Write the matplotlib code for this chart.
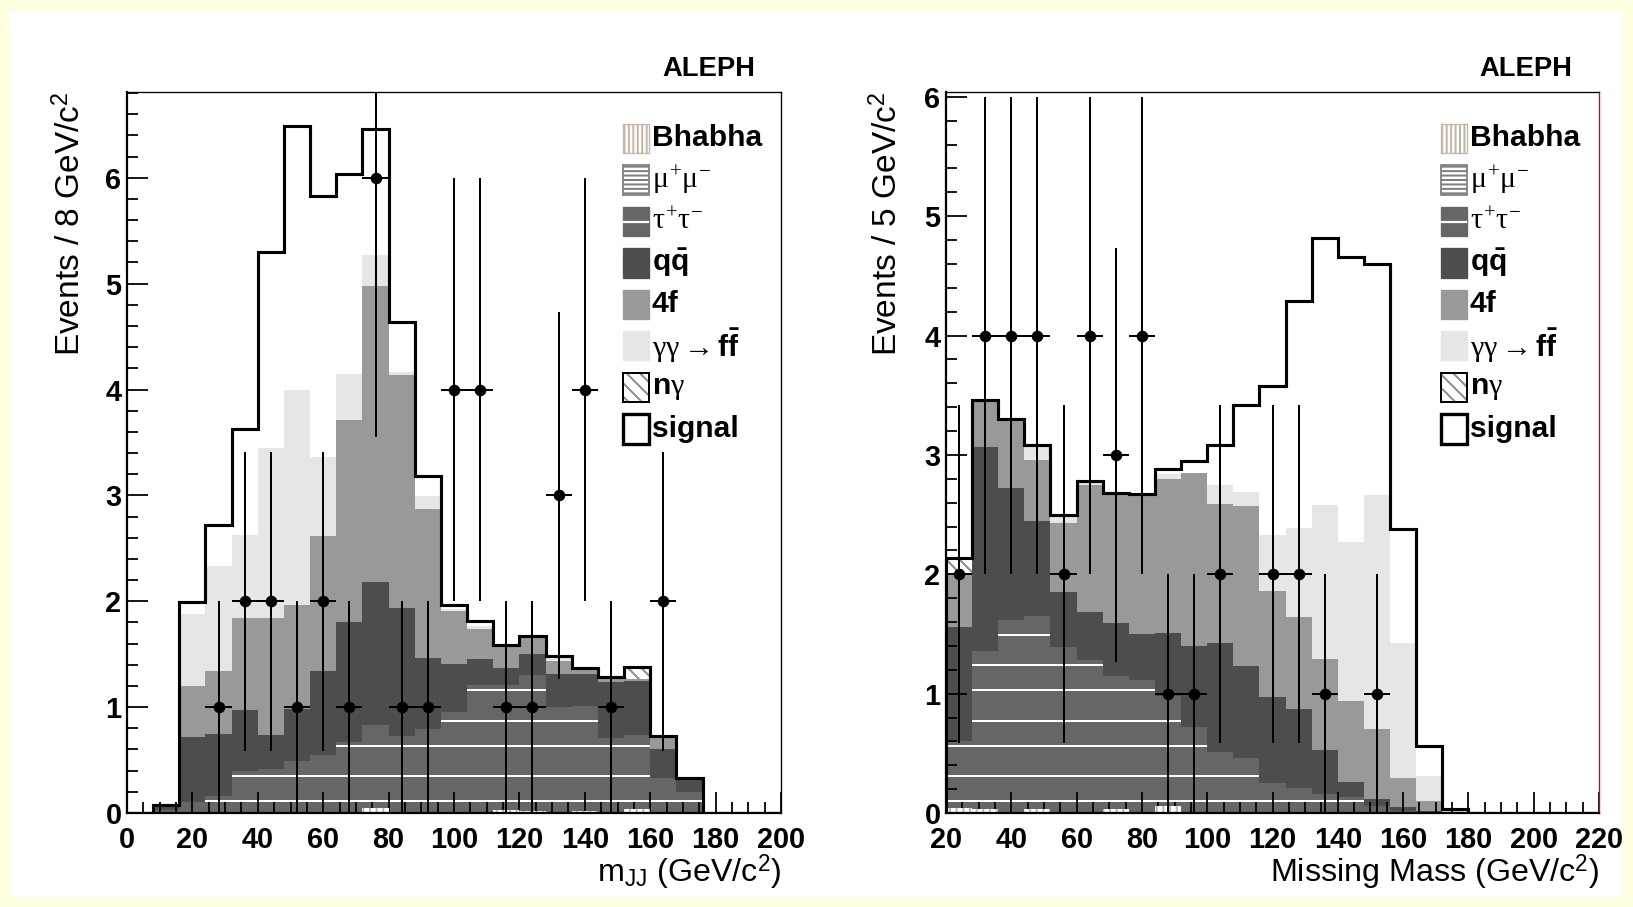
import numpy as np
import matplotlib
matplotlib.use("Agg")
import matplotlib.pyplot as plt
from matplotlib.patches import Rectangle
from matplotlib.lines import Line2D

plt.rcParams['font.family'] = ['Liberation Sans', 'DejaVu Sans']
plt.rcParams['mathtext.fontset'] = 'custom'
plt.rcParams['mathtext.rm'] = 'Liberation Serif'
plt.rcParams['mathtext.it'] = 'Liberation Serif'
plt.rcParams['mathtext.bf'] = 'Liberation Sans:bold'
plt.rcParams['mathtext.sf'] = 'Liberation Sans'
plt.rcParams['hatch.linewidth'] = 0.9

# ---------------- data (stack heights are cumulative tops) ----------------
# left: m_JJ, 8 GeV bins 0..200
mjj_edges = np.arange(0, 201, 8)
mjj_bhabha = [0, 0, 0, 0, 0, 0, 0, 0, 0, 0.05, 0, 0, 0, 0, 0.03, 0.02, 0, 0.02, 0, 0.04, 0, 0, 0, 0, 0]
mjj_mumu = [0, 0, 0, 0, 0, 0, 0, 0, 0, 0, 0, 0, 0, 0, 0, 0, 0, 0, 0, 0, 0, 0, 0, 0, 0]
mjj_tautau = [0, 0.03, 0.10, 0.16, 0.40, 0.42, 0.49, 0.55, 0.67, 0.83, 0.73, 0.79, 0.95,
              1.21, 1.21, 1.30, 1.00, 1.01, 0.71, 0.74, 0.33, 0.20, 0, 0, 0]
mjj_qq = [0, 0.08, 0.72, 0.75, 0.97, 0.74, 0.98, 1.34, 1.80, 2.18, 1.94, 1.46, 1.41,
          1.45, 1.37, 1.50, 1.31, 1.31, 1.24, 1.25, 0.60, 0.33, 0, 0, 0]
mjj_4f = [0, 0.08, 1.20, 1.34, 1.84, 1.84, 1.96, 2.62, 3.71, 4.98, 4.14, 2.87, 1.91,
          1.74, 1.59, 1.67, 1.44, 1.36, 1.27, 1.27, 0.73, 0.33, 0, 0, 0]
mjj_gg = [0, 0.08, 1.875, 2.33, 2.63, 3.45, 4.00, 3.36, 4.15, 5.27, 4.17, 2.99, 1.93,
          1.77, 1.59, 1.67, 1.46, 1.37, 1.28, 1.27, 0.73, 0.33, 0, 0, 0]
mjj_ng = [0, 0.08, 1.875, 2.33, 2.63, 3.45, 4.00, 3.36, 4.15, 5.27, 4.17, 2.99, 1.93,
          1.77, 1.59, 1.67, 1.46, 1.37, 1.28, 1.38, 0.73, 0.33, 0, 0, 0]
mjj_signal = [0, 0.08, 1.99, 2.72, 3.63, 5.30, 6.49, 5.83, 6.04, 6.46, 4.64, 3.18, 1.96,
              1.81, 1.59, 1.67, 1.48, 1.37, 1.28, 1.38, 0.73, 0.33, 0, 0, 0]
mjj_data_x = [28, 36, 44, 52, 60, 68, 76, 84, 92, 100, 108, 116, 124, 132, 140, 148, 164]
mjj_data_n = [1, 2, 2, 1, 2, 1, 6, 1, 1, 4, 4, 1, 1, 3, 4, 1, 2]

# right: missing mass, 8 GeV bins 20..220
mm_edges = np.arange(20, 221, 8)
mm_bhabha = [0.04, 0.03, 0, 0.03, 0, 0, 0.03, 0, 0.06, 0, 0, 0, 0, 0, 0, 0, 0, 0, 0, 0, 0, 0, 0, 0, 0]
mm_mumu = [0, 0, 0, 0, 0, 0, 0, 0, 0, 0, 0, 0, 0, 0, 0, 0, 0, 0, 0, 0, 0, 0, 0, 0, 0]
mm_tautau = [0.60, 1.36, 1.62, 1.65, 1.39, 1.28, 1.15, 1.11, 0.98, 0.72, 0.51, 0.46, 0.25,
             0.21, 0.16, 0.13, 0.06, 0.02, 0.01, 0, 0, 0, 0, 0, 0]
mm_qq = [1.56, 3.07, 2.72, 2.45, 1.85, 1.68, 1.59, 1.50, 1.51, 1.40, 1.42, 1.23, 0.97,
         0.87, 0.53, 0.26, 0.12, 0.05, 0.02, 0, 0, 0, 0, 0, 0]
mm_4f = [2.01, 3.46, 3.28, 2.96, 2.43, 2.75, 2.66, 2.67, 2.80, 2.85, 2.59, 2.57, 1.86,
         1.64, 1.29, 0.94, 0.70, 0.29, 0.10, 0, 0, 0, 0, 0, 0]
mm_gg = [2.01, 3.46, 3.30, 3.07, 2.50, 2.78, 2.68, 2.67, 2.84, 2.85, 2.75, 2.69, 2.33,
         2.39, 2.58, 2.27, 2.66, 1.42, 0.31, 0.02, 0, 0, 0, 0, 0]
mm_ng = [2.12, 3.46, 3.30, 3.07, 2.50, 2.78, 2.68, 2.67, 2.84, 2.85, 2.75, 2.69, 2.33,
         2.39, 2.58, 2.27, 2.66, 1.42, 0.31, 0.02, 0, 0, 0, 0, 0]
mm_signal = [2.14, 3.46, 3.30, 3.08, 2.50, 2.78, 2.68, 2.67, 2.88, 2.95, 3.08, 3.42, 3.58,
             4.29, 4.82, 4.66, 4.60, 2.38, 0.56, 0.03, 0, 0, 0, 0, 0]
mm_data_x = [24, 32, 40, 48, 56, 64, 72, 80, 88, 96, 104, 120, 128, 136, 152]
mm_data_n = [2, 4, 4, 4, 2, 4, 3, 4, 1, 1, 2, 2, 2, 1, 1]

leg_labels = ['Bhabha', r'$\mu^{+}\mu^{-}$', r'$\tau^{+}\tau^{-}$', r'$\mathbf{q\bar{q}}$', '4f',
              r'$\gamma\gamma \rightarrow \mathbf{f\bar{f}}$', r'$\mathbf{n}\gamma$', 'signal']

# ---------------- styling ----------------
W, H, DPI = 1633, 907, 160
AX_H = 721          # axes height in pixels
C_BHABHA = '#c4b5a5'
C_MUMU = '#808080'
C_TAU = '#666666'
C_QQ = '#4d4d4d'
C_4F = '#999999'
C_GG = '#e6e6e6'
C_NG = '#8c8c8c'
TAU_LINES_PX = [12, 37, 67, 92, 123, 148, 178, 203, 233]   # white line pattern of the tau fill


def fx(x):
    return x / W


def fy(y):
    return 1 - y / H


fig = plt.figure(figsize=(W / DPI, H / DPI), dpi=DPI)
fig.patch.set_facecolor('#ffffe0')
fig.add_artist(Rectangle((fx(10), fy(897)), (W - 20) / W, (897 - 12) / H,
                         transform=fig.transFigure, facecolor='white', edgecolor='none', zorder=-5))


def draw_panel(ax, edges, ymax, bhabha, mumu, tautau, qq, fourf, gg, ng, signal, data_x, data_n):
    bhabha = np.array(bhabha)
    low = bhabha + np.array(mumu)
    ax.stairs(tautau, edges, baseline=low, fill=True, facecolor=C_TAU, linewidth=0)
    # white horizontal pattern lines inside the tau+tau- area
    for lev_px in TAU_LINES_PX:
        lev = lev_px * ymax / AX_H
        for i in range(len(tautau)):
            if low[i] < lev < tautau[i] - 0.02:
                ax.hlines(lev, edges[i], edges[i + 1], color='white', linewidth=0.9, zorder=1.5)
    ax.stairs(qq, edges, baseline=tautau, fill=True, facecolor=C_QQ, linewidth=0)
    ax.stairs(fourf, edges, baseline=qq, fill=True, facecolor=C_4F, linewidth=0)
    ax.stairs(gg, edges, baseline=fourf, fill=True, facecolor=C_GG, linewidth=0)
    ax.stairs(ng, edges, baseline=gg, fill=True, facecolor='white', edgecolor=C_NG,
              hatch='\\\\\\\\', linewidth=0)
    ax.stairs(bhabha, edges, baseline=0, fill=True, facecolor='white', edgecolor=C_BHABHA,
              hatch='||||', linewidth=0, zorder=2)
    ax.stairs(low, edges, baseline=bhabha, fill=True, facecolor='white', edgecolor=C_MUMU,
              hatch='----', linewidth=0, zorder=2)
    ax.stairs(signal, edges, baseline=0, fill=False, edgecolor='black', linewidth=1.4, zorder=3)
    ax.errorbar(data_x, data_n, xerr=4, yerr=np.sqrt(data_n), fmt='o', color='black',
                ms=4.2, elinewidth=0.9, capsize=0, zorder=5)


def style_axes(ax, xmin, xmax, ymax):
    ax.set_xlim(xmin, xmax)
    ax.set_ylim(0, ymax)
    ax.set_xticks(np.arange(xmin, xmax + 1, 20))
    ax.set_xticks(np.arange(xmin, xmax + 1, 5), minor=True)
    ax.set_yticks(np.arange(0, int(ymax) + 1, 1))
    ax.set_yticks(np.arange(0, ymax, 0.2), minor=True)
    ax.tick_params(which='both', direction='in', width=0.8, labelsize=13,
                   top=False, right=False)
    ax.tick_params(which='major', length=9.5)
    ax.tick_params(which='minor', length=5)
    ax.tick_params(axis='x', pad=6)
    ax.tick_params(axis='y', pad=2.5)
    for lbl in ax.get_xticklabels() + ax.get_yticklabels():
        lbl.set_fontweight('bold')
    ax.spines['left'].set_linewidth(1.0)
    ax.spines['bottom'].set_linewidth(1.0)
    ax.spines['top'].set_linewidth(0.6)
    ax.spines['right'].set_linewidth(0.6)


def draw_legend(box_x):
    y0, dy = 138.5, 41.5
    bw, bh = 26, 29
    for i, lab in enumerate(leg_labels):
        yc = y0 + i * dy
        rect = (fx(box_x), fy(yc + bh / 2))
        size = (bw / W, bh / H)
        if i == 0:
            fig.add_artist(Rectangle(rect, *size, transform=fig.transFigure, facecolor='white',
                                     edgecolor=C_BHABHA, hatch='||||||', linewidth=0.6))
        elif i == 1:
            fig.add_artist(Rectangle(rect, *size, transform=fig.transFigure, facecolor='white',
                                     edgecolor=C_MUMU, hatch='------', linewidth=0.8))
        elif i == 2:
            fig.add_artist(Rectangle(rect, *size, transform=fig.transFigure, facecolor=C_TAU,
                                     edgecolor=C_TAU, linewidth=0.6))
            fig.add_artist(Line2D([fx(box_x + 1), fx(box_x + bw - 1)], [fy(yc), fy(yc)],
                                  transform=fig.transFigure, color='white', linewidth=1.0))
        elif i == 3:
            fig.add_artist(Rectangle(rect, *size, transform=fig.transFigure, facecolor=C_QQ,
                                     edgecolor=C_QQ, linewidth=0.6))
        elif i == 4:
            fig.add_artist(Rectangle(rect, *size, transform=fig.transFigure, facecolor=C_4F,
                                     edgecolor=C_4F, linewidth=0.6))
        elif i == 5:
            fig.add_artist(Rectangle(rect, *size, transform=fig.transFigure, facecolor=C_GG,
                                     edgecolor=C_GG, linewidth=0.6))
        elif i == 6:
            fig.add_artist(Rectangle(rect, *size, transform=fig.transFigure, facecolor='white',
                                     edgecolor=C_NG, hatch='\\\\\\\\', linewidth=0))
            fig.add_artist(Rectangle(rect, *size, transform=fig.transFigure, facecolor='none',
                                     edgecolor='black', linewidth=0.9))
        else:
            fig.add_artist(Rectangle(rect, *size, transform=fig.transFigure, facecolor='white',
                                     edgecolor='black', linewidth=1.5))
        fig.text(fx(box_x + bw + 3), fy(yc), lab, ha='left', va='center',
                 fontsize=13.5, fontweight='bold')


# left panel
ax1 = fig.add_axes([fx(127), fy(813), 654 / W, AX_H / H])
draw_panel(ax1, mjj_edges, 6.81, mjj_bhabha, mjj_mumu, mjj_tautau, mjj_qq, mjj_4f, mjj_gg,
           mjj_ng, mjj_signal, mjj_data_x, mjj_data_n)
style_axes(ax1, 0, 200, 6.81)

# right panel
ax2 = fig.add_axes([fx(946), fy(813), 653 / W, AX_H / H])
draw_panel(ax2, mm_edges, 6.04, mm_bhabha, mm_mumu, mm_tautau, mm_qq, mm_4f, mm_gg,
           mm_ng, mm_signal, mm_data_x, mm_data_n)
style_axes(ax2, 20, 220, 6.04)
ax2.spines['right'].set_color('#e00000')

draw_legend(623)
draw_legend(1441)

# labels
fig.text(fx(755), fy(76), 'ALEPH', ha='right', va='baseline', fontsize=12.3, fontweight='bold')
fig.text(fx(1572), fy(76), 'ALEPH', ha='right', va='baseline', fontsize=12.3, fontweight='bold')

fig.text(fx(71), fy(92), r'Events / 8 GeV/c$^{\mathsf{2}}$', rotation=90, ha='center', va='top',
         fontsize=15)
fig.text(fx(888), fy(92), r'Events / 5 GeV/c$^{\mathsf{2}}$', rotation=90, ha='center', va='top',
         fontsize=15)
fig.text(fx(781), fy(882), r'm$_{\mathsf{JJ}}$ (GeV/c$^{\mathsf{2}}$)', ha='right', va='baseline',
         fontsize=14.5)
fig.text(fx(1599), fy(882), r'Missing Mass (GeV/c$^{\mathsf{2}}$)', ha='right', va='baseline',
         fontsize=14.5)

fig.savefig('out.png', dpi=DPI, facecolor=fig.get_facecolor())
